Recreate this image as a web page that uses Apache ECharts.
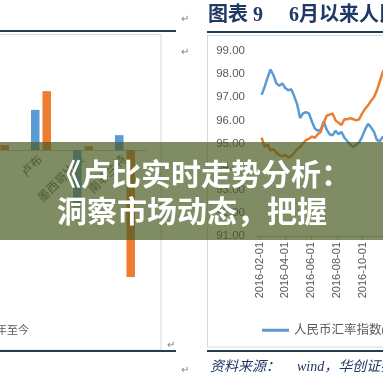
<!DOCTYPE html>
<html>
<head>
<meta charset="utf-8">
<script src="https://cdn.jsdelivr.net/npm/echarts@6/dist/echarts.min.js"></script>
<style>
html,body{margin:0;padding:0;background:#fff;}
#c{width:383px;height:383px;}
</style>
</head>
<body>
<div id="c"></div>
<script>
// ---- Left chart (bar) data ----
const barCategories = ['巴西雷亚尔', '卢布', '墨西哥比索', '南非兰特'];
const barSeriesNames = ['2015年', '2016年至今'];
const barPrevValues = [-6.0, 7.3, -10.4, 2.7];
const barYtdValues = [0.9, 10.7, 0.7, -23.1];

// ---- Right chart (line) data ----
const lineSeriesNames = ['人民币汇率指数(参考CFETS)', '人民币汇率指数(参考SDR)'];
const weekDates = [
  '2016-02-05','2016-02-12','2016-02-19','2016-02-26','2016-03-04','2016-03-11','2016-03-18','2016-03-25',
  '2016-04-01','2016-04-08','2016-04-15','2016-04-22','2016-04-29','2016-05-06','2016-05-13','2016-05-20',
  '2016-05-27','2016-06-03','2016-06-10','2016-06-17','2016-06-24','2016-07-01','2016-07-08','2016-07-15',
  '2016-07-22','2016-07-29','2016-08-05','2016-08-12','2016-08-19','2016-08-26','2016-09-02','2016-09-09',
  '2016-09-16','2016-09-23','2016-09-30','2016-10-07','2016-10-14','2016-10-21','2016-10-28','2016-11-04',
  '2016-11-11','2016-11-18','2016-11-25'
];
const cfetsValues = [
  97.10, 97.45, 97.85, 98.20, 97.95, 97.60, 97.50, 97.60,
  97.40, 97.30, 97.35, 97.05, 96.70, 96.10, 96.30, 96.35,
  96.30, 95.95, 95.65, 95.55, 95.60, 95.95, 95.60, 95.40,
  95.35, 95.55, 95.40, 95.50, 95.25, 95.10, 94.95, 94.85,
  94.95, 95.05, 95.30, 95.60, 95.85, 95.70, 95.50, 95.15,
  95.10, 95.30, 95.20
];
const sdrValues = [
  95.25, 94.85, 94.95, 94.70, 94.75, 94.60, 94.50, 94.45,
  94.50, 94.40, 94.45, 94.60, 94.75, 94.85, 95.00, 95.15,
  95.20, 95.30, 95.25, 95.40, 95.50, 95.90, 96.20, 96.25,
  96.30, 96.00, 95.90, 95.80, 96.05, 96.05, 96.10, 96.05,
  96.00, 96.05, 96.30, 96.50, 96.65, 96.85, 97.00, 97.30,
  97.70, 98.10, 98.30
];
const yTickMin = 91, yTickMax = 99, yTickStep = 1;
const labelMonths = ['02', '04', '06', '08', '10', '12'];

// daily category axis
const dayCategories = [];
(function () {
  let d = new Date(Date.UTC(2016, 0, 25));
  const end = new Date(Date.UTC(2016, 11, 31));
  while (d <= end) {
    dayCategories.push(d.toISOString().slice(0, 10));
    d = new Date(d.getTime() + 86400000);
  }
})();
function isLabelDay(idx, val) {
  return val.slice(8) === '01' && labelMonths.indexOf(val.slice(5, 7)) >= 0;
}

const serif = "'Liberation Serif','DejaVu Serif','Noto Sans CJK SC',serif";
const sans = "'Liberation Sans','DejaVu Sans',sans-serif";
const gray = '#595959';
const navy = '#1f3864';
const barBlue = '#5b9bd5', barOrange = '#ed7d31';

const chart = echarts.init(document.getElementById('c'), null, {renderer: 'canvas'});
chart.setOption({
  animation: false,
  backgroundColor: '#ffffff',
  grid: [
    {left: -22, top: 40, width: 168, height: 275, outerBoundsMode: 'none', containLabel: false},
    {left: 257, top: 51, width: 144, height: 185, outerBoundsMode: 'none', containLabel: false}
  ],
  xAxis: [
    {
      gridIndex: 0, type: 'category', data: barCategories,
      axisLine: {onZero: false, lineStyle: {color: '#bfbfbf'}},
      offset: -165,
      axisTick: {show: false},
      axisLabel: {rotate: 45, fontSize: 12, color: gray, fontFamily: serif, interval: 0, margin: 8}
    },
    {
      gridIndex: 1, type: 'category', data: dayCategories, boundaryGap: false,
      axisLine: {lineStyle: {color: '#bfbfbf'}},
      axisTick: {interval: isLabelDay, length: 4, lineStyle: {color: '#bfbfbf'}},
      axisLabel: {interval: isLabelDay, rotate: 90, fontSize: 11, color: gray, fontFamily: sans, margin: 6}
    }
  ],
  yAxis: [
    {gridIndex: 0, type: 'value', min: -30, max: 20, show: false},
    {
      gridIndex: 1, type: 'value', min: yTickMin, max: yTickMax, interval: yTickStep,
      axisLine: {show: false}, axisTick: {show: false}, splitLine: {show: false},
      axisLabel: {formatter: v => v.toFixed(2), fontSize: 11.5, color: gray, fontFamily: sans, margin: 12}
    }
  ],
  legend: [
    {
      data: [barSeriesNames[1]], left: -60, top: 321, width: 400, itemWidth: 24, itemHeight: 10,
      textStyle: {fontSize: 11, color: gray, fontFamily: serif}
    },
    {
      data: lineSeriesNames, left: 257, top: 319, width: 600, itemWidth: 27, itemHeight: 3, icon: 'rect', itemGap: 20,
      textStyle: {fontSize: 12.5, color: gray, fontFamily: serif}
    }
  ],
  series: [
    {name: barSeriesNames[0], type: 'bar', xAxisIndex: 0, yAxisIndex: 0, data: barPrevValues,
      barWidth: 8.5, barGap: '35%', itemStyle: {color: barBlue}},
    {name: barSeriesNames[1], type: 'bar', xAxisIndex: 0, yAxisIndex: 0, data: barYtdValues,
      barWidth: 8.5, barGap: '35%', itemStyle: {color: barOrange}},
    {name: lineSeriesNames[0], type: 'line', xAxisIndex: 1, yAxisIndex: 1,
      data: weekDates.map((d, i) => [d, cfetsValues[i]]), showSymbol: false,
      lineStyle: {width: 2.5, color: barBlue}, itemStyle: {color: barBlue}},
    {name: lineSeriesNames[1], type: 'line', xAxisIndex: 1, yAxisIndex: 1,
      data: weekDates.map((d, i) => [d, sdrValues[i]]), showSymbol: false,
      lineStyle: {width: 2.5, color: barOrange}, itemStyle: {color: barOrange}}
  ],
  graphic: [
    // frames
    {type: 'rect', z: 1, shape: {x: -10, y: 34.5, width: 171, height: 315.5}, style: {fill: null, stroke: '#d9d9d9', lineWidth: 1}},
    {type: 'rect', z: 1, shape: {x: 207.5, y: 35.5, width: 200, height: 311.5}, style: {fill: null, stroke: '#d9d9d9', lineWidth: 1}},
    {type: 'line', z: 5, shape: {x1: 0, y1: 31, x2: 176, y2: 31}, style: {stroke: '#203f55', lineWidth: 2}},
    {type: 'line', z: 5, shape: {x1: 0, y1: 351, x2: 176, y2: 351}, style: {stroke: '#203f55', lineWidth: 2}},
    {type: 'line', z: 5, shape: {x1: 207, y1: 32, x2: 383, y2: 32}, style: {stroke: '#203f55', lineWidth: 2}},
    {type: 'line', z: 5, shape: {x1: 207, y1: 351, x2: 383, y2: 351}, style: {stroke: '#203f55', lineWidth: 2}},
    // paragraph marks
    {type: 'text', z: 5, style: {x: 181, y: 19, text: '↵', fontSize: 10, fill: '#7f7f7f', verticalAlign: 'middle'}},
    {type: 'text', z: 5, style: {x: 181, y: 52, text: '↵', fontSize: 10, fill: '#7f7f7f', verticalAlign: 'middle'}},
    {type: 'text', z: 5, style: {x: 167, y: 345, text: '↵', fontSize: 10, fill: '#7f7f7f', verticalAlign: 'middle'}},
    {type: 'text', z: 5, style: {x: 181, y: 370, text: '↵', fontSize: 10, fill: '#7f7f7f', verticalAlign: 'middle'}},
    // title & source
    {type: 'text', z: 5, style: {x: 208, y: 16, text: '图表 9', fontSize: 20, fontWeight: 'bold',
      fill: navy, fontFamily: serif, verticalAlign: 'middle'}},
    {type: 'text', z: 5, style: {x: 289, y: 16, text: '6月以来人民币汇率走势', fontSize: 20, fontWeight: 'bold',
      fill: navy, fontFamily: serif, verticalAlign: 'middle'}},
    {type: 'text', z: 5, style: {x: 210, y: 367, text: '资料来源：', fontSize: 14, fontStyle: 'italic',
      fill: navy, fontFamily: serif, verticalAlign: 'middle'}},
    {type: 'text', z: 5, style: {x: 297, y: 367, text: 'wind，华创证券', fontSize: 14, fontStyle: 'italic',
      fill: navy, fontFamily: serif, verticalAlign: 'middle'}},
    // banner
    {type: 'rect', z: 100, shape: {x: 0, y: 142, width: 383, height: 98}, style: {fill: 'rgba(72,91,34,0.7)'}},
    {type: 'text', z: 101, style: {x: 51, y: 174, text: '《卢比实时走势分析：', fontSize: 30, fontWeight: 'bold',
      fill: '#ffffff', fontFamily: "'Noto Sans CJK SC',sans-serif", verticalAlign: 'middle'}},
    {type: 'text', z: 101, style: {x: 57, y: 211, text: '洞察市场动态，把握', fontSize: 30, fontWeight: 'bold',
      fill: '#ffffff', fontFamily: "'Noto Sans CJK SC',sans-serif", verticalAlign: 'middle'}}
  ]
});
</script>
</body>
</html>
